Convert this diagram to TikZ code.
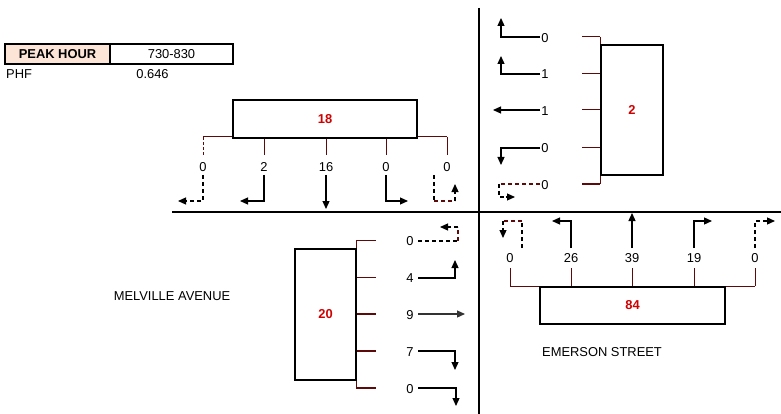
\documentclass[tikz,border=0pt]{standalone}
\usepackage{fontspec}
\setmainfont{Liberation Sans}
\usetikzlibrary{arrows.meta}
\definecolor{brk}{HTML}{5C0A0A}
\definecolor{vol}{HTML}{D00000}
\definecolor{peach}{HTML}{FCE4D6}
\tikzset{
 lbl/.style={font=\fontsize{12.9}{14}\selectfont, inner sep=0pt},
 tot/.style={draw, line width=2pt, font=\fontsize{12.9}{14}\selectfont\bfseries, text=vol},
 hdr/.style={draw, line width=1.8pt, minimum height=20pt, font=\fontsize{12.9}{14}\selectfont, inner sep=0pt},
 brkline/.style={draw=brk, line width=1pt},
 mv/.style={line width=1.2pt, -{Triangle[length=8pt,width=7pt]}},
 ut/.style={line width=1.2pt, dash pattern=on 4pt off 3pt},
 road/.style={line width=2.2pt}
}
\begin{document}
\begin{tikzpicture}[x=1pt,y=-1pt]
\useasboundingbox (0,0) rectangle (781,414);
% header
\node[hdr, fill=peach, minimum width=105pt, font=\fontsize{12.9}{14}\selectfont\bfseries] (peak) at (57.5,54) {PEAK HOUR};
\node[hdr, minimum width=123pt] (hour) at (171.5,54) {730-830};
\node[lbl, anchor=west] (phf) at (6,74) {PHF};
\node[lbl] (phfv) at (152.5,74) {0.646};
% roads
\coordinate (rw) at (172,212); \coordinate (re) at (781,212);
\coordinate (rn) at (479,8); \coordinate (rs) at (479,414);
\draw[road] (rw) -- (re);
\draw[road] (rn) -- (rs);
% street names
\node[lbl] (melville) at (172,296) {MELVILLE AVENUE};
\node[lbl] (emerson) at (602,352) {EMERSON STREET};

% ---------- NORTH approach ----------
\coordinate (nb1) at (203,137); \coordinate (nb5) at (447,137);
\draw[brkline] (nb1) -- (nb5);
\draw[brkline, dash pattern=on 3pt off 2pt] (203,137) -- (203,155);
\foreach \x in {264,326,386,447} \draw[brkline] (\x,137) -- (\x,155);
\node[tot, minimum width=184pt, minimum height=38pt, fill=white] (nbox) at (325,119) {18};
\node[lbl] (n1) at (203,167) {0};
\node[lbl] (n2) at (264,167) {2};
\node[lbl] (n3) at (326,167) {16};
\node[lbl] (n4) at (386,167) {0};
\node[lbl] (n5) at (447,167) {0};
\draw[ut] (203,175) -- (203,201) -- (186,201);
\draw[mv] (186,201) -- (178,201);
\draw[mv] (264,175) |- (240,201);
\draw[mv] (326,175) -- (326,209);
\draw[mv] (386,175) |- (408,201);
\draw[ut] (434,175) -- (434,201);
\draw[ut, draw=brk] (434,201) -- (455,201);
\draw[ut] (455,201) -- (455,192);
\draw[mv] (455,193) -- (455,184);

% ---------- EAST approach ----------
\draw[brkline] (600,37) -- (600,184);
\foreach \y in {37,74,110,148} \draw[brkline] (582,\y) -- (600,\y);
\draw[draw=brk, line width=2pt] (582,184) -- (600,184);
\node[tot, minimum width=62pt, minimum height=130pt] (ebox) at (632,110) {2};
\node[lbl] (e1) at (545,38) {0};
\node[lbl] (e2) at (545,74) {1};
\node[lbl] (e3) at (545,111) {1};
\node[lbl] (e4) at (545,148) {0};
\node[lbl] (e5) at (545,185) {0};
\draw[mv] (540,37) -| (501,18);
\draw[mv] (540,74) -| (501,56);
\draw[mv] (540,110) -- (493,110);
\draw[mv] (540,148) -| (501,165);
\draw[ut, draw=brk] (540,184) -- (499,184);
\draw[ut] (499,184) -- (499,197) -- (507,197);
\draw[mv] (506,197) -- (515,197);

% ---------- SOUTH approach ----------
\draw[brkline] (510,286) -- (755,286);
\foreach \x in {510,571,632,694,755} \draw[brkline] (\x,268) -- (\x,286);
\node[tot, minimum width=185pt, minimum height=37pt, fill=white] (sbox) at (632.5,305.5) {84};
\node[lbl] (s1) at (510,258) {0};
\node[lbl] (s2) at (571,258) {26};
\node[lbl] (s3) at (632,258) {39};
\node[lbl] (s4) at (694,258) {19};
\node[lbl] (s5) at (755,258) {0};
\draw[ut] (522,248) -- (522,221);
\draw[ut, draw=brk] (522,221) -- (503,221);
\draw[ut] (503,221) -- (503,229);
\draw[mv] (503,228) -- (503,238);
\draw[mv] (571,248) |- (552,221);
\draw[mv] (632,248) -- (632,213);
\draw[mv] (694,248) |- (712,221);
\draw[ut] (755,248) |- (766,221);
\draw[mv] (765,221) -- (775,221);

% ---------- WEST approach ----------
\draw[brkline] (356,240) -- (356,388);
\foreach \y in {240,277} \draw[brkline] (356,\y) -- (376,\y);
\foreach \y in {314,351,388} \draw[draw=brk, line width=1.8pt] (356,\y) -- (376,\y);
\node[tot, minimum width=61pt, minimum height=131pt] (wbox) at (325.5,314.5) {20};
\node[lbl] (w1) at (410,241) {0};
\node[lbl] (w2) at (410,278) {4};
\node[lbl] (w3) at (410,315) {9};
\node[lbl] (w4) at (410,352) {7};
\node[lbl] (w5) at (410,389) {0};
\draw[ut] (418,241) -- (458,241);
\draw[ut, draw=brk] (458,241) -- (458,227);
\draw[ut] (458,227) -- (449,227);
\draw[mv] (450,227) -- (440,227);
\draw[mv] (418,278) -| (455,260);
\draw[mv, draw=black!80] (418,314) -- (465,314);
\draw[mv] (418,351) -| (455,370);
\draw[mv] (418,388) -| (456,406);
\end{tikzpicture}
\end{document}
